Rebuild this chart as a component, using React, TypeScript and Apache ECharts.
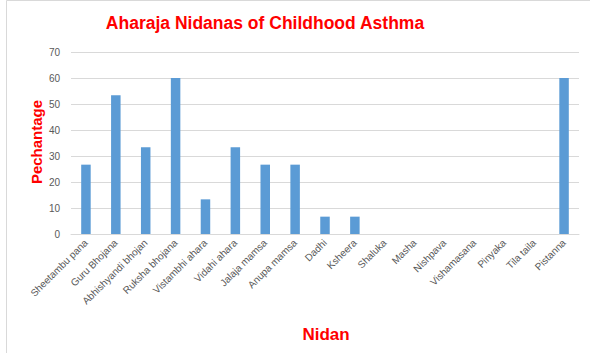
import React, { useEffect, useRef } from "react";
import * as echarts from "echarts";

const categories = [
  "Sheetambu pana",
  "Guru Bhojana",
  "Abhishyandi bhojan",
  "Ruksha bhojana",
  "Vistambhi ahara",
  "Vidahi ahara",
  "Jalaja mamsa",
  "Anupa mamsa",
  "Dadhi",
  "Ksheera",
  "Shaluka",
  "Masha",
  "Nishpava",
  "Vishamasana",
  "Pinyaka",
  "Tila taila",
  "Pistanna",
];
const values = [26.67, 53.33, 33.33, 60, 13.33, 33.33, 26.67, 26.67, 6.67, 6.67, 0, 0, 0, 0, 0, 0, 60];
const titleText = "Aharaja Nidanas of Childhood Asthma";
const yName = "Pechantage";
const xName = "Nidan";

export default function App() {
  const ref = useRef<HTMLDivElement>(null);
  useEffect(() => {
    if (!ref.current) return;
    const chart = echarts.init(ref.current, undefined, { renderer: "svg" });
    const font = "'Liberation Sans', Arial, sans-serif";
    chart.setOption({
      animation: false,
      backgroundColor: "#ffffff",
      graphic: [
        {
          type: "rect",
          shape: { x: 6.5, y: 0.5, width: 620, height: 400 },
          style: { fill: "none", stroke: "#d9d9d9", lineWidth: 1 },
          silent: true,
        },
        {
          type: "text",
          x: 265,
          y: 23,
          style: {
            text: titleText,
            fill: "#ff0000",
            font: `bold 17.5px ${font}`,
            textAlign: "center",
            textVerticalAlign: "middle",
          },
        },
        {
          type: "text",
          x: 36,
          y: 142,
          rotation: Math.PI / 2,
          style: {
            text: yName,
            fill: "#ff0000",
            font: `bold 15px ${font}`,
            textAlign: "center",
            textVerticalAlign: "middle",
          },
        },
        {
          type: "text",
          x: 326,
          y: 334,
          style: {
            text: xName,
            fill: "#ff0000",
            font: `bold 17px ${font}`,
            textAlign: "center",
            textVerticalAlign: "middle",
          },
        },
      ],
      grid: { left: 71, right: 11, top: 52, bottom: 119, containLabel: false },
      xAxis: {
        type: "category",
        data: categories,
        axisLine: { show: true, lineStyle: { color: "#d9d9d9", width: 1 } },
        axisTick: { show: false },
        axisLabel: {
          rotate: 45,
          interval: 0,
          color: "#595959",
          fontSize: 10,
          fontFamily: font,
          margin: 7,
        },
      },
      yAxis: {
        type: "value",
        min: 0,
        max: 70,
        interval: 10,
        axisLine: { show: false },
        axisTick: { show: false },
        splitLine: { lineStyle: { color: "#d9d9d9", width: 1 } },
        axisLabel: { color: "#595959", fontSize: 10, fontFamily: font, margin: 11 },
      },
      series: [
        {
          type: "bar",
          data: values,
          barWidth: 9.5,
          itemStyle: { color: "#5b9bd5" },
        },
      ],
    });
    return () => chart.dispose();
  }, []);
  return (
    <div
      ref={ref}
      style={{ position: "fixed", left: 0, top: 0, width: 590, height: 353 }}
    />
  );
}
